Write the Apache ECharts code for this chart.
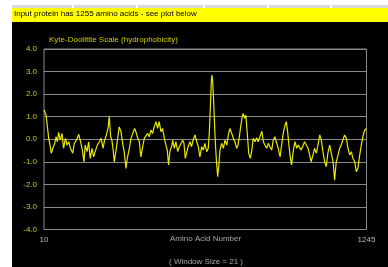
<!DOCTYPE html>
<html>
<head>
<meta charset="utf-8">
<script src="https://cdn.jsdelivr.net/npm/echarts@6/dist/echarts.min.js"></script>
<style>
  html, body { margin: 0; padding: 0; background: #fff; }
  #chart { width: 388px; height: 267px; }
</style>
</head>
<body>
<div id="chart"></div>
<script>
// Residue numbers (window centres) and Kyte-Doolittle scores
const residues = [
    10, 18, 23, 28, 33, 38, 44, 51, 56, 61, 66, 72, 79, 85, 92, 98, 105, 111, 120, 126,
    134, 143, 150, 157, 163, 168, 175, 181, 187, 194, 200, 206, 214, 222, 229, 236, 242, 249, 255, 260,
    265, 270, 275, 279, 286, 292, 298, 305, 311, 317, 324, 330, 337, 343, 350, 357, 362, 369, 375, 381,
    388, 394, 401, 407, 413, 420, 426, 432, 439, 445, 451, 458, 464, 471, 477, 482, 487, 492, 500, 503,
    509, 515, 522, 528, 535, 541, 546, 551, 556, 562, 569, 575, 582, 588, 595, 601, 607, 614, 620, 626,
    633, 639, 643, 647, 651, 653, 656, 660, 664, 667, 671, 675, 679, 684, 690, 697, 703, 710, 716, 722,
    729, 735, 741, 748, 753, 759, 764, 769, 773, 778, 783, 788, 794, 800, 806, 811, 818, 824, 830, 837,
    844, 850, 856, 863, 869, 875, 882, 888, 894, 901, 907, 914, 920, 926, 933, 938, 943, 948, 953, 958,
    965, 971, 978, 984, 989, 995, 1002, 1008, 1014, 1021, 1027, 1033, 1040, 1046, 1053, 1059, 1066, 1072, 1078, 1085,
    1091, 1097, 1104, 1110, 1117, 1123, 1129, 1136, 1142, 1148, 1155, 1161, 1168, 1174, 1181, 1187, 1193, 1200, 1206, 1212,
    1219, 1225, 1231, 1238, 1245
];
const hydro = [
    1.30, 1.07, 0.55, 0.04, -0.26, -0.62, -0.40, -0.18, 0.11, -0.11, 0.31, -0.04, 0.26, -0.40, 0.04, -0.26, -0.11, -0.40, -0.62, -0.18,
    -0.04, 0.22, -0.11, -0.48, -1.00, -0.26, -0.55, -0.11, -0.85, -0.40, -0.78, -0.55, -0.26, -0.11, 0.04, -0.40, -0.04, 0.19, 0.48, 1.00,
    0.11, -0.04, -0.48, -1.00, -0.48, 0.04, 0.55, 0.33, -0.18, -0.55, -1.29, -0.78, -0.40, 0.04, 0.26, 0.48, 0.33, 0.04, -0.11, -0.78,
    -0.33, 0.04, 0.11, 0.26, 0.11, 0.41, 0.26, 0.55, 0.78, 0.48, 0.78, 0.33, 0.48, 0.04, -0.26, -0.48, -1.14, -0.55, -0.26, -0.04,
    -0.40, -0.11, -0.55, -0.33, -0.18, -0.04, -0.18, -0.85, -0.92, -0.33, -0.11, -0.33, 0.00, 0.19, -0.11, -0.33, -0.78, -0.33, -0.48, -0.18,
    -0.55, -0.40, 0.26, 1.44, 2.63, 2.85, 2.55, 1.59, 0.41, -0.33, -1.07, -1.66, -1.22, -0.48, -0.18, -0.40, -0.04, -0.26, 0.19, 0.48,
    0.26, 0.04, -0.11, -0.40, -0.26, 0.19, 0.63, 1.00, 1.15, 0.93, 1.07, 0.33, -0.62, -0.85, -0.48, 0.04, -0.11, 0.07, -0.11, 0.11,
    0.36, -0.11, -0.26, -0.40, -0.18, -0.33, -0.48, -0.04, 0.11, 0.04, -0.40, -0.78, -0.26, 0.26, 0.63, 0.78, 0.33, -0.26, -0.78, -1.14,
    -0.48, -0.11, -0.40, -0.26, -0.26, -0.48, -0.40, -0.11, -0.04, -0.40, -0.67, -1.00, -0.70, -0.40, -0.62, -0.26, 0.19, -0.04, -0.55, -1.00,
    -1.22, -0.62, -0.26, -0.18, -1.00, -1.81, -1.00, -0.70, -0.40, -0.26, -0.18, 0.19, 0.04, -0.40, -0.70, -0.55, -0.85, -1.00, -1.44, -1.29,
    -0.70, -0.26, 0.11, 0.41, 0.48
];
const yTicks = [-4, -3, -2, -1, 0, 1, 2, 3, 4];
const xTicks = [10, 1245];

const chart = echarts.init(document.getElementById('chart'), null, { renderer: 'canvas' });

const option = {
    backgroundColor: '#fff',
    animation: false,
    title: {
        text: 'Kyte-Doolittle Scale (hydrophobicity)',
        left: 44,
        top: 31,
        textStyle: { color: '#cccc00', fontSize: 8, fontWeight: 'normal', fontFamily: 'Liberation Sans' }
    },
    graphic: [
        { type: 'rect', z: -10, shape: { x: 12, y: 5, width: 376, height: 3 }, style: { fill: '#d8d8d8' } },
        { type: 'rect', z: -9, shape: { x: 72, y: 4, width: 2, height: 4 }, style: { fill: '#fff' } },
        { type: 'rect', z: -9, shape: { x: 136, y: 4, width: 2, height: 4 }, style: { fill: '#fff' } },
        { type: 'rect', z: -9, shape: { x: 203, y: 4, width: 2, height: 4 }, style: { fill: '#fff' } },
        { type: 'rect', z: -9, shape: { x: 267, y: 4, width: 2, height: 4 }, style: { fill: '#fff' } },
        { type: 'rect', z: -9, shape: { x: 330, y: 4, width: 2, height: 4 }, style: { fill: '#fff' } },
        { type: 'rect', z: -10, shape: { x: 12, y: 8, width: 376, height: 14 }, style: { fill: '#ffff00' } },
        { type: 'rect', z: -10, shape: { x: 12, y: 22, width: 376, height: 245 }, style: { fill: '#000' } },
        {
            type: 'text', left: 14, top: 10,
            style: { text: 'Input protein has 1255 amino acids - see plot below', fill: '#000', fontSize: 8, fontFamily: 'Liberation Sans' }
        },
        {
            type: 'text', left: 170, top: 235,
            style: { text: 'Amino Acid Number', fill: '#a8a8a8', fontSize: 8, fontFamily: 'Liberation Sans' }
        },
        {
            type: 'text', left: 169, top: 258,
            style: { text: '( Window Size = 21 )', fill: '#a8a8a8', fontSize: 8, fontFamily: 'Liberation Sans' }
        }
    ],
    grid: { left: 44, right: 21.5, top: 49, bottom: 37.5, show: true, borderColor: '#8a8a8a', borderWidth: 1 },
    xAxis: {
        type: 'value',
        min: 10,
        max: 1245,
        axisLine: { show: false },
        axisTick: { show: false },
        splitLine: { show: false },
        axisLabel: {
            customValues: xTicks,
            color: '#b8b8b8', fontSize: 8, margin: 6, fontFamily: 'Liberation Sans',
            formatter: v => String(v)
        }
    },
    yAxis: {
        type: 'value',
        min: -4,
        max: 4,
        interval: 1,
        axisLine: { show: false },
        axisTick: { show: false },
        splitLine: { lineStyle: { color: '#8a8a8a', width: 1 } },
        axisLabel: {
            customValues: yTicks,
            color: '#cccc00', fontSize: 8, margin: 7, fontFamily: 'Liberation Sans',
            formatter: v => v.toFixed(1)
        }
    },
    series: [{
        type: 'line',
        data: residues.map((r, i) => [r, hydro[i]]),
        showSymbol: false,
        lineStyle: { color: '#e8e800', width: 1.2 },
        z: 5
    }]
};

chart.setOption(option);
</script>
</body>
</html>
